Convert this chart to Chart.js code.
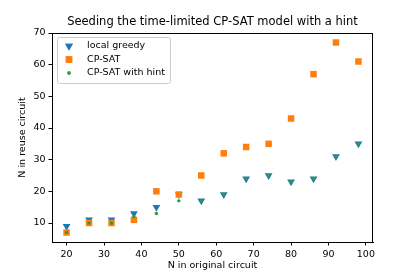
<!DOCTYPE html>
<html>
<head>
<meta charset="utf-8">
<script src="https://cdn.jsdelivr.net/npm/chart.js@4"></script>
<style>
  html, body { margin: 0; padding: 0; background: #fff; }
  #wrap { width: 415px; height: 277px; }
</style>
</head>
<body>
<div id="wrap"><canvas id="chart" width="415" height="277"></canvas></div>
<script>
const nOriginal = [20, 26, 32, 38, 44, 50, 56, 62, 68, 74, 80, 86, 92, 98];
const localGreedy = [9, 11, 11, 13, 15, 19, 17, 19, 24, 25, 23, 24, 31, 35];
const cpSat = [7, 10, 10, 11, 20, 19, 25, 32, 34, 35, 43, 57, 67, 61];
const cpSatHint = [7, 10, 10, 12, 13, 17, 17, 19, 24, 25, 23, 24, 31, 35];
const xTicks = [20, 30, 40, 50, 60, 70, 80, 90, 100];
const yTicks = [10, 20, 30, 40, 50, 60, 70];

const FONT = "'DejaVu Sans', sans-serif";

function toPoints(ys) {
  return nOriginal.map((x, i) => ({ x: x, y: ys[i] }));
}

const legendItems = [
  { label: "local greedy", style: "triangle", rot: 180, r: 4.5, color: "#1f77b4" },
  { label: "CP-SAT", style: "rect", rot: 0, r: 4.6, color: "#ff7f0e" },
  { label: "CP-SAT with hint", style: "circle", rot: 0, r: 1.7, color: "#2ca02c" }
];

// title, axis labels, top/right spines and the legend box
const decor = {
  id: "decor",
  afterDraw(chart) {
    const ctx = chart.ctx;
    const a = chart.chartArea;
    ctx.save();
    ctx.strokeStyle = "#000";
    ctx.lineWidth = 1;
    ctx.beginPath();
    ctx.moveTo(a.left, a.top + 0.5);
    ctx.lineTo(a.right, a.top + 0.5);
    ctx.moveTo(a.right - 0.5, a.top);
    ctx.lineTo(a.right - 0.5, a.bottom);
    ctx.stroke();

    ctx.fillStyle = "#000";
    ctx.textAlign = "center";
    ctx.textBaseline = "middle";
    ctx.font = "11.5px " + FONT;
    ctx.fillText("Seeding the time-limited CP-SAT model with a hint", (a.left + a.right) / 2, 22);
    ctx.font = "9.5px " + FONT;
    ctx.fillText("N in original circuit", (a.left + a.right) / 2, 266);
    ctx.save();
    ctx.translate(23, (a.top + a.bottom) / 2);
    ctx.rotate(-Math.PI / 2);
    ctx.fillText("N in reuse circuit", 0, 0);
    ctx.restore();

    // legend
    const bx = 57, by = 37, bw = 113, bh = 46;
    ctx.fillStyle = "rgba(255,255,255,0.8)";
    ctx.strokeStyle = "#cccccc";
    ctx.lineWidth = 1;
    ctx.beginPath();
    ctx.roundRect(bx + 0.5, by + 0.5, bw, bh, 2);
    ctx.fill();
    ctx.stroke();
    ctx.textAlign = "left";
    legendItems.forEach((it, i) => {
      const y = 46 + i * 13.5;
      ctx.fillStyle = it.color;
      ctx.strokeStyle = it.color;
      Chart.helpers.drawPoint(ctx, { pointStyle: it.style, radius: it.r, rotation: it.rot, borderWidth: 0 }, 69, y);
      ctx.fill();
      ctx.fillStyle = "#000";
      ctx.fillText(it.label, 87, y);
    });
    ctx.restore();
  }
};

new Chart(document.getElementById("chart"), {
  type: "scatter",
  data: {
    datasets: [
      {
        label: "local greedy",
        data: toPoints(localGreedy),
        order: 3,
        pointStyle: "triangle",
        rotation: 180,
        pointRadius: 4.5,
        backgroundColor: "#1f77b4",
        borderColor: "#1f77b4",
        borderWidth: 0
      },
      {
        label: "CP-SAT",
        data: toPoints(cpSat),
        order: 2,
        pointStyle: "rect",
        pointRadius: 4.6,
        backgroundColor: "#ff7f0e",
        borderColor: "#ff7f0e",
        borderWidth: 0
      },
      {
        label: "CP-SAT with hint",
        data: toPoints(cpSatHint),
        order: 1,
        pointStyle: "circle",
        pointRadius: 1.7,
        backgroundColor: "#2ca02c",
        borderColor: "#2ca02c",
        borderWidth: 0
      }
    ]
  },
  options: {
    responsive: false,
    animation: false,
    devicePixelRatio: 1,
    layout: { padding: { top: 33, right: 42, bottom: 0, left: 0 } },
    plugins: {
      legend: { display: false },
      title: { display: false },
      tooltip: { enabled: false }
    },
    scales: {
      x: {
        type: "linear",
        min: 16.1,
        max: 101.9,
        afterFit: s => { s.height = 35; },
        afterBuildTicks: s => { s.ticks = xTicks.map(v => ({ value: v })); },
        grid: { drawOnChartArea: false, drawTicks: true, tickLength: 3.5, color: "#000", tickWidth: 1 },
        border: { display: true, color: "#000", width: 1 },
        ticks: { color: "#000", padding: 3, font: { family: FONT, size: 9.5 }, maxRotation: 0 }
      },
      y: {
        type: "linear",
        min: 4,
        max: 70,
        afterFit: s => { s.width = 52; },
        afterBuildTicks: s => { s.ticks = yTicks.map(v => ({ value: v })); },
        grid: { drawOnChartArea: false, drawTicks: true, tickLength: 3.5, color: "#000", tickWidth: 1 },
        border: { display: true, color: "#000", width: 1 },
        ticks: { color: "#000", padding: 3, font: { family: FONT, size: 9.5 } }
      }
    }
  },
  plugins: [decor]
});
</script>
</body>
</html>
